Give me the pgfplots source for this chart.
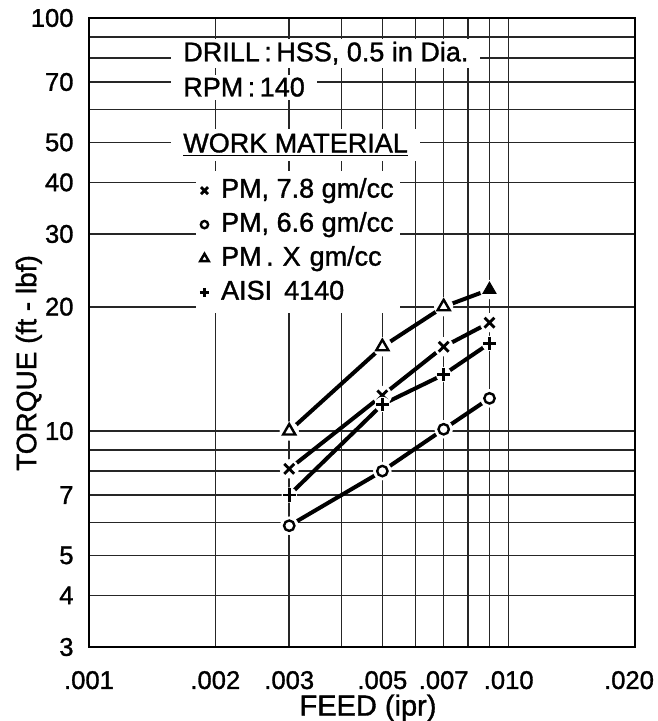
\documentclass[border=0pt]{standalone}
\usepackage{fontspec}
\setmainfont{Liberation Sans}[UprightFeatures={FakeBold=1.2}]
\usepackage{pgfplots}
\pgfplotsset{compat=1.18}
\begin{document}
\begin{tikzpicture}
\begin{axis}[
 scale only axis, width=273pt, height=314.5pt,
 xmode=log, ymode=log,
 xmin=0.001, xmax=0.02, ymin=3, ymax=100,
 xtick={0.001,0.002,0.003,0.005,0.007,0.01,0.02},
 xticklabels={.001,.002,.003,.005,.007,.010,{\hspace*{-6pt}.020}},
 ytick={3,4,5,7,10,20,30,40,50,70,100},
 yticklabels={3,4,5,7,10,20,30,40,50,70,100},
 minor xtick={0.004,0.006,0.008,0.009},
 minor ytick={6,8,9,60,80,90},
 grid=both,
 major grid style={black!85, line width=0.8pt},
 minor grid style={black!85, line width=0.8pt},
 major tick length=0pt, minor tick length=0pt,
 axis line style={line width=1.4pt},
 tick label style={font=\fontsize{12.8}{15}\selectfont},
 /pgf/number format/assume math mode=true,
 yticklabel style={xshift=-4.2pt},
 xticklabel style={yshift=-8.5pt},
 xlabel={FEED (ipr)},
 xlabel style={at={(rel axis cs:0.511,-0.097)}, anchor=center, font=\fontsize{14.5}{16}\selectfont},
 ylabel={TORQUE (ft - lbf)},
 ylabel style={at={(rel axis cs:-0.1100,0.4515)}, anchor=center, rotate=0, font=\fontsize{14}{16}\selectfont},
 clip=false,
 legend cell align=left,
 legend style={at={(rel axis cs:0.195,0.758)}, anchor=north west, draw=none, fill=white,
   inner sep=2pt, row sep=1pt, font=\fontsize{13.5}{16}\selectfont,
   nodes={inner sep=1pt, text height=10.5pt, text depth=3.5pt},
   /tikz/every odd column/.append style={column sep=5pt}},
 legend image post style={scale=0.7},
]
\coordinate (bbSW) at (rel axis cs:-0.163,-0.1176);
\coordinate (bbNE) at (rel axis cs:1.042,1.0286);

% PM 7.8 gm/cc (x)
\addplot[black, line width=2pt, forget plot] coordinates {(0.003,8.1) (0.005,12.2) (0.007,16.0) (0.009,18.3)};
\addplot[white, only marks, mark=*, mark size=4.6pt, forget plot] coordinates {(0.003,8.1) (0.005,12.2) (0.007,16.0) (0.009,18.3)};
\addplot[black, only marks, mark=x, mark size=3.5pt, mark options={line width=1.4pt}] coordinates {(0.003,8.1) (0.005,12.2) (0.007,16.0) (0.009,18.3)};
\addlegendentry{PM, 7.8 gm/cc}

% PM 6.6 gm/cc (o)
\addplot[black, line width=2pt, forget plot] coordinates {(0.003,5.9) (0.005,8.0) (0.007,10.1) (0.009,12.0)};
\addplot[white, only marks, mark=*, mark size=4.4pt, forget plot] coordinates {(0.003,5.9) (0.005,8.0) (0.007,10.1) (0.009,12.0)};
\addplot[black, only marks, mark=o, mark size=2.6pt, mark options={line width=1.2pt}] coordinates {(0.003,5.9) (0.005,8.0) (0.007,10.1) (0.009,12.0)};
\addlegendentry{PM, 6.6 gm/cc}

% PM X gm/cc (triangle)
\addplot[black, line width=2pt, forget plot] coordinates {(0.003,10) (0.005,16) (0.007,20) (0.009,22)};
\addplot[white, only marks, mark=*, mark size=4.6pt, forget plot] coordinates {(0.003,10) (0.005,16) (0.007,20) (0.009,22)};
\addplot[black, only marks, mark=triangle, mark size=3.5pt, mark options={line width=1.2pt}] coordinates {(0.003,10) (0.005,16) (0.007,20)};
\addlegendentry{PM\,.\,\,X\,\,gm/cc}
\addplot[black, only marks, mark=triangle*, mark size=3.8pt, forget plot] coordinates {(0.009,22)};

% AISI 4140 (+)
\addplot[black, line width=2pt, forget plot] coordinates {(0.003,7.0) (0.005,11.6) (0.007,13.7) (0.009,16.3)};
\addplot[white, only marks, mark=*, mark size=3.6pt, forget plot] coordinates {(0.003,7.0) (0.005,11.6) (0.007,13.7) (0.009,16.3)};
\addplot[black, only marks, mark=+, mark size=3.3pt, mark options={line width=1.4pt}] coordinates {(0.003,7.0) (0.005,11.6) (0.007,13.7) (0.009,16.3)};
\addlegendentry{AISI\, 4140}

\node[anchor=west, fill=white, inner xsep=6pt, inner ysep=1.5pt, font=\fontsize{13.5}{16}\selectfont] at (rel axis cs:0.150,0.944) {DRILL\,:\,HSS, 0.5 in Dia.};
\node[anchor=west, fill=white, inner xsep=6pt, inner ysep=1.5pt, font=\fontsize{13.5}{16}\selectfont] at (rel axis cs:0.150,0.890) {RPM\,:\,140};
\node[anchor=west, fill=white, inner xsep=6pt, inner ysep=2pt, font=\fontsize{13.5}{16}\selectfont] at (rel axis cs:0.150,0.798) {\underline{WORK MATERIAL}};
\end{axis}
\pgfresetboundingbox
\path[use as bounding box] (bbSW) rectangle (bbNE);
\end{tikzpicture}
\end{document}
